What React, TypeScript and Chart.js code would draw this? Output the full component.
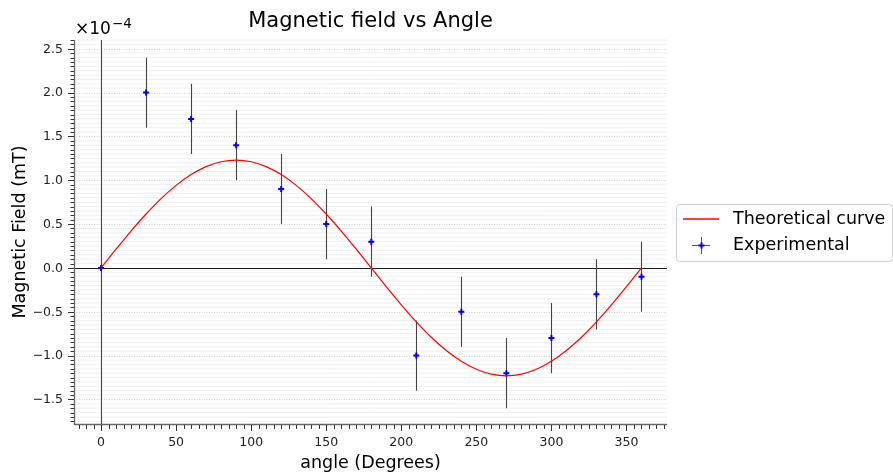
import React, { useEffect, useRef } from "react";
import { Chart, registerables } from "chart.js";

Chart.register(...registerables);

// ---- data ----
const angles = [0, 30, 60, 90, 120, 150, 180, 210, 240, 270, 300, 330, 360];
const fieldValues = [0, 2.0, 1.7, 1.4, 0.9, 0.5, 0.3, -1.0, -0.5, -1.2, -0.8, -0.3, -0.1];
const fieldErrors = [3.0, 0.4, 0.4, 0.4, 0.4, 0.4, 0.4, 0.4, 0.4, 0.4, 0.4, 0.4, 0.4];

const curveAngles = [
  0, 10, 20, 30, 40, 50, 60, 70, 80, 90, 100, 110, 120, 130, 140, 150, 160, 170, 180,
  190, 200, 210, 220, 230, 240, 250, 260, 270, 280, 290, 300, 310, 320, 330, 340, 350, 360,
];
const curveValues = [
  0, 0.214, 0.421, 0.615, 0.791, 0.942, 1.065, 1.156, 1.211, 1.23, 1.211, 1.156, 1.065,
  0.942, 0.791, 0.615, 0.421, 0.214, 0, -0.214, -0.421, -0.615, -0.791, -0.942, -1.065,
  -1.156, -1.211, -1.23, -1.211, -1.156, -1.065, -0.942, -0.791, -0.615, -0.421, -0.214, 0,
];

const xTicks = [0, 50, 100, 150, 200, 250, 300, 350];
const yTicks = [-1.5, -1.0, -0.5, 0.0, 0.5, 1.0, 1.5, 2.0, 2.5];
const xRange = [-18, 377];
const yRange = [-1.78, 2.6];

const FONT = '"DejaVu Sans", "Liberation Sans", sans-serif';
const fmtTick = (v: number) => {
  const s = Math.abs(v).toFixed(1);
  return v < 0 ? "\u2212" + s : s;
};

const drawPlugin = {
  id: "customDraw",
  beforeDraw(chart: any) {
    const { ctx } = chart;
    ctx.save();
    ctx.fillStyle = "#ffffff";
    ctx.fillRect(0, 0, chart.width, chart.height);
    ctx.restore();
  },
  beforeDatasetsDraw(chart: any) {
    const { ctx, chartArea: a, scales } = chart;
    const ys = scales.y;
    ctx.save();
    // minor grid
    ctx.strokeStyle = "#ececec";
    ctx.lineWidth = 0.8;
    for (let i = -36; i <= 52; i++) {
      const v = i * 0.05;
      if (v < yRange[0] || v > yRange[1] || i % 10 === 0) continue;
      const p = ys.getPixelForValue(v);
      ctx.beginPath();
      ctx.moveTo(a.left, p);
      ctx.lineTo(a.right, p);
      ctx.stroke();
    }
    // major grid dotted
    ctx.strokeStyle = "#d0d0d0";
    ctx.lineWidth = 1;
    ctx.setLineDash([1, 1.5]);
    for (const v of yTicks) {
      const p = Math.round(ys.getPixelForValue(v)) + 0.5;
      ctx.beginPath();
      ctx.moveTo(a.left, p);
      ctx.lineTo(a.right, p);
      ctx.stroke();
    }
    ctx.setLineDash([]);
    // zero line
    ctx.strokeStyle = "#222222";
    const z = Math.round(ys.getPixelForValue(0)) + 0.5;
    ctx.beginPath();
    ctx.moveTo(a.left, z);
    ctx.lineTo(a.right, z);
    ctx.stroke();
    ctx.restore();
  },
  beforeDatasetDraw(chart: any, args: any) {
    if (args.index !== 1) return;
    const { ctx, chartArea: a, scales } = chart;
    ctx.save();
    ctx.beginPath();
    ctx.rect(a.left, a.top, a.right - a.left, a.bottom - a.top);
    ctx.clip();
    ctx.strokeStyle = "#444444";
    ctx.lineWidth = 1.1;
    angles.forEach((x, i) => {
      const px = Math.round(scales.x.getPixelForValue(x)) + 0.5;
      const y1 = scales.y.getPixelForValue(fieldValues[i] + fieldErrors[i]);
      const y2 = scales.y.getPixelForValue(fieldValues[i] - fieldErrors[i]);
      ctx.beginPath();
      ctx.moveTo(px, y1);
      ctx.lineTo(px, y2);
      ctx.stroke();
    });
    ctx.restore();
  },
  afterDraw(chart: any) {
    const { ctx, chartArea: a, scales } = chart;
    const xs = scales.x;
    const ys = scales.y;
    ctx.save();
    // spines
    ctx.strokeStyle = "#666666";
    ctx.lineWidth = 1.3;
    ctx.beginPath();
    ctx.moveTo(a.left + 0.5, a.top);
    ctx.lineTo(a.left + 0.5, a.bottom + 1);
    ctx.moveTo(a.left, a.bottom + 0.5);
    ctx.lineTo(a.right, a.bottom + 0.5);
    ctx.stroke();

    // y ticks
    ctx.strokeStyle = "#333333";
    ctx.lineWidth = 1;
    for (let i = -35; i <= 52; i++) {
      const v = i * 0.05;
      if (v < yRange[0] || v > yRange[1]) continue;
      const p = Math.round(ys.getPixelForValue(v)) + 0.5;
      const major = i % 10 === 0;
      ctx.beginPath();
      ctx.moveTo(a.left, p);
      ctx.lineTo(a.left - (major ? 6 : 3.5), p);
      ctx.stroke();
    }
    // x ticks
    for (let v = -15; v <= 375; v += 5) {
      const p = Math.round(xs.getPixelForValue(v)) + 0.5;
      const major = v % 50 === 0;
      ctx.beginPath();
      ctx.moveTo(p, a.bottom + 1);
      ctx.lineTo(p, a.bottom + 1 + (major ? 6 : 4));
      ctx.stroke();
    }

    // tick labels
    ctx.fillStyle = "#222222";
    ctx.font = `12.5px ${FONT}`;
    ctx.textAlign = "right";
    ctx.textBaseline = "middle";
    for (const v of yTicks) {
      ctx.fillText(fmtTick(v), a.left - 11, ys.getPixelForValue(v) + 0.5);
    }
    ctx.textAlign = "center";
    ctx.textBaseline = "middle";
    for (const v of xTicks) {
      ctx.fillText(String(v), xs.getPixelForValue(v), a.bottom + 19);
    }

    // titles
    ctx.fillStyle = "#000000";
    ctx.font = `21px ${FONT}`;
    ctx.textAlign = "center";
    ctx.textBaseline = "middle";
    ctx.fillText("Magnetic field vs Angle", (a.left + a.right) / 2, 22);

    ctx.font = `17.5px ${FONT}`;
    ctx.fillText("angle (Degrees)", (a.left + a.right) / 2, 463);

    ctx.save();
    ctx.translate(20, (a.top + a.bottom) / 2);
    ctx.rotate(-Math.PI / 2);
    ctx.fillText("Magnetic Field (mT)", 0, 0);
    ctx.restore();

    // offset text
    ctx.textAlign = "left";
    ctx.textBaseline = "alphabetic";
    ctx.font = `17px ${FONT}`;
    ctx.fillText("\u00d710", 75, 34);
    const w = ctx.measureText("\u00d710").width;
    ctx.font = `13.5px ${FONT}`;
    ctx.fillText("\u22124", 75 + w + 1, 28);

    // legend
    const lx = 676.5, ly = 204.5, lw = 216, lh = 57, r = 3;
    ctx.beginPath();
    ctx.moveTo(lx + r, ly);
    ctx.lineTo(lx + lw - r, ly);
    ctx.arcTo(lx + lw, ly, lx + lw, ly + r, r);
    ctx.lineTo(lx + lw, ly + lh - r);
    ctx.arcTo(lx + lw, ly + lh, lx + lw - r, ly + lh, r);
    ctx.lineTo(lx + r, ly + lh);
    ctx.arcTo(lx, ly + lh, lx, ly + lh - r, r);
    ctx.lineTo(lx, ly + r);
    ctx.arcTo(lx, ly, lx + r, ly, r);
    ctx.closePath();
    ctx.fillStyle = "rgba(255,255,255,0.8)";
    ctx.fill();
    ctx.strokeStyle = "#d0d0d0";
    ctx.lineWidth = 1;
    ctx.stroke();

    // entry 1
    ctx.beginPath();
    ctx.strokeStyle = "rgb(255,0,0)";
    ctx.lineWidth = 1.3;
    ctx.moveTo(683, 219);
    ctx.lineTo(719, 219);
    ctx.stroke();
    ctx.fillStyle = "#000000";
    ctx.font = `17.5px ${FONT}`;
    ctx.textBaseline = "middle";
    ctx.fillText("Theoretical curve", 733, 219);

    // entry 2
    ctx.strokeStyle = "#555555";
    ctx.lineWidth = 1;
    ctx.beginPath();
    ctx.moveTo(701.5, 237);
    ctx.lineTo(701.5, 254);
    ctx.moveTo(692, 245.5);
    ctx.lineTo(710, 245.5);
    ctx.stroke();
    ctx.strokeStyle = "#0000ff";
    ctx.lineWidth = 2;
    ctx.beginPath();
    ctx.moveTo(698.5, 245.5);
    ctx.lineTo(704.5, 245.5);
    ctx.moveTo(701.5, 242.5);
    ctx.lineTo(701.5, 248.5);
    ctx.stroke();
    ctx.fillText("Experimental", 733, 245);
    ctx.restore();
  },
};

export default function App() {
  const ref = useRef<HTMLCanvasElement | null>(null);
  useEffect(() => {
    document.body.style.margin = "0";
    if (!ref.current) return;
    const chart = new Chart(ref.current, {
      type: "scatter",
      data: {
        datasets: [
          {
            label: "Theoretical curve",
            data: curveAngles.map((x, i) => ({ x, y: curveValues[i] })),
            showLine: true,
            borderColor: "#ff0000",
            backgroundColor: "#ff0000",
            borderWidth: 1.2,
            pointRadius: 0,
            cubicInterpolationMode: "monotone",
          },
          {
            label: "Experimental",
            data: angles.map((x, i) => ({ x, y: fieldValues[i] })),
            showLine: false,
            pointStyle: "cross",
            pointRadius: 3,
            borderColor: "#0000ff",
            backgroundColor: "#0000ff",
            borderWidth: 2,
          },
        ],
      },
      options: {
        animation: false,
        responsive: false,
        devicePixelRatio: 1,
        layout: { padding: { left: 74, top: 40, right: 226, bottom: 52 } },
        plugins: { legend: { display: false }, title: { display: false }, tooltip: { enabled: false } },
        events: [],
        scales: {
          x: { type: "linear", min: xRange[0], max: xRange[1], display: false },
          y: { type: "linear", min: yRange[0], max: yRange[1], display: false },
        },
      },
      plugins: [drawPlugin],
    } as any);
    return () => chart.destroy();
  }, []);
  return <canvas ref={ref} width={893} height={476} style={{ display: "block" }} />;
}
